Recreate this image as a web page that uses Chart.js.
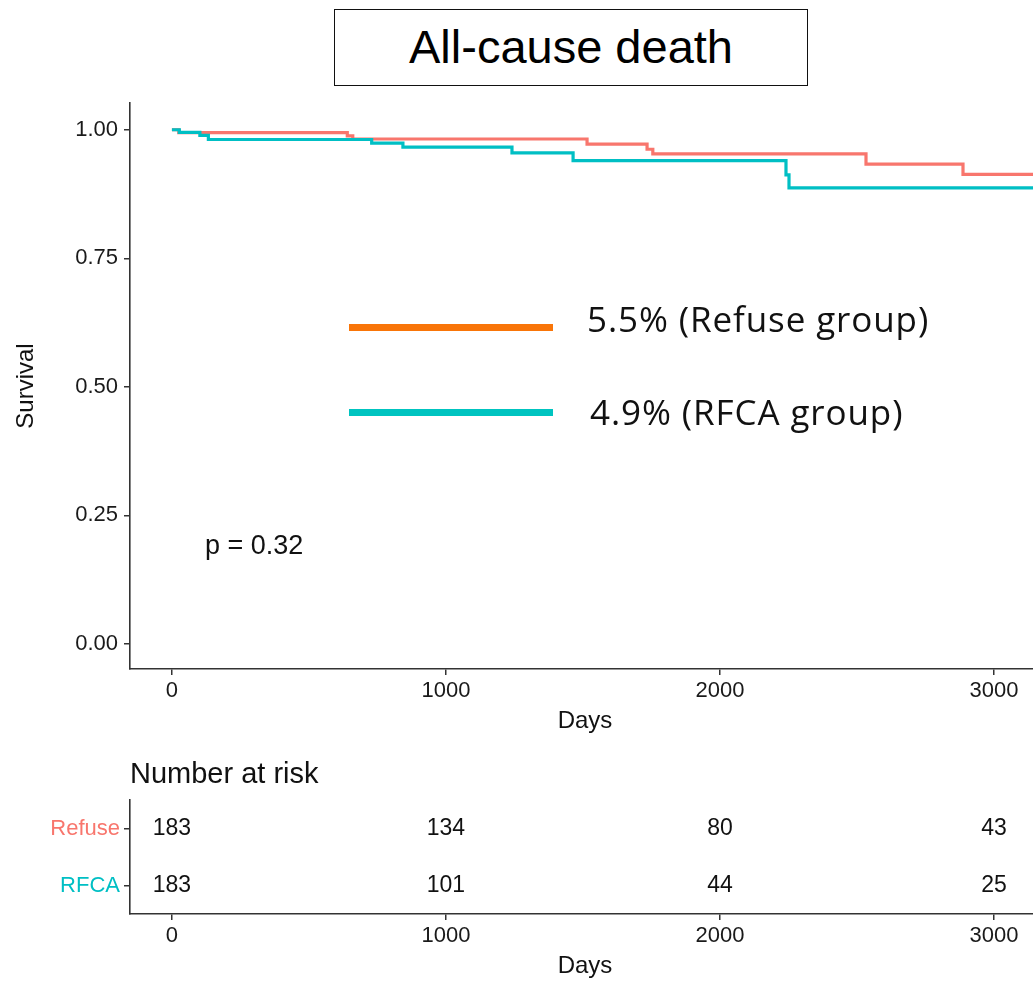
<!DOCTYPE html>
<html>
<head>
<meta charset="utf-8">
<title>All-cause death</title>
<script src="https://cdn.jsdelivr.net/npm/chart.js@4.4.1/dist/chart.umd.min.js"></script>
<style>
    html, body { margin: 0; padding: 0; background: #fff; }
    body {
        width: 1033px; height: 982px; overflow: hidden; position: relative;
        font-family: "Liberation Sans", Arial, sans-serif; color: #111;
    }
    canvas { position: absolute; left: 0; }
    #survChart { top: 0; }
    #riskChart { top: 750px; }
    .title-box {
        position: absolute; left: 334px; top: 9px; width: 474px; height: 77px;
        box-sizing: border-box; border: 1.5px solid #111;
        font-size: 47px; line-height: 74px; text-align: center; color: #000;
    }
    .leg-line { position: absolute; left: 349px; width: 204px; height: 7px; }
    .leg-text {
        position: absolute; font-family: "Open Sans", "Noto Sans", sans-serif;
        font-size: 35px; line-height: 44px; letter-spacing: 0.9px; color: #111; white-space: nowrap;
    }
    .pval { position: absolute; left: 205px; top: 529px; font-size: 27px; line-height: 32px; }
    .risk-title { position: absolute; left: 130px; top: 755px; font-size: 29px; line-height: 36px; }
</style>
</head>
<body>
<div class="title-box">All-cause death</div>
<canvas id="survChart" width="1040" height="750"></canvas>
<canvas id="riskChart" width="1040" height="232"></canvas>

<div class="leg-line" style="top:324px; background:#f97508;"></div>
<div class="leg-text" style="left:587px; top:297px;">5.5% (Refuse group)</div>
<div class="leg-line" style="top:409px; background:#00c4c0;"></div>
<div class="leg-text" style="left:590px; top:390px;">4.9% (RFCA group)</div>
<div class="pval">p = 0.32</div>
<div class="risk-title">Number at risk</div>

<script>
    // Kaplan-Meier steps (days, survival)
    const refuseDays = [0, 25, 640, 660, 1515, 1734, 1755, 2533, 2887, 3170];
    const refuseSurv = [1.0, 0.9945, 0.988, 0.982, 0.972, 0.962, 0.953, 0.933, 0.913, 0.913];
    const rfcaDays = [0, 27, 102, 133, 729, 843, 1241, 1464, 2241, 2252, 3170];
    const rfcaSurv = [1.0, 0.995, 0.989, 0.981, 0.974, 0.966, 0.955, 0.940, 0.912, 0.887, 0.887];

    // number at risk table
    const riskGroups = ['Refuse', 'RFCA'];
    const riskDays = [0, 1000, 2000, 3000];
    const refuseRisk = [183, 134, 80, 43];
    const rfcaRisk = [183, 101, 44, 25];

    // axis ticks
    const dayTicks = [0, 1000, 2000, 3000];
    const survTicks = [0, 0.25, 0.5, 0.75, 1.0];

    const RED = '#f8766d';
    const TEAL = '#00bfc4';
    const AXIS = '#333333';
    const TEXT = '#1a1a1a';
    const X_MIN = -153, X_MAX = 3168;

    Chart.defaults.font.family = '"Liberation Sans", Arial, sans-serif';

    function toPoints(days, vals) {
        return days.map(function (d, i) { return { x: d, y: vals[i] }; });
    }

    function axisGrid() {
        return { display: true, drawOnChartArea: false, drawTicks: true, tickLength: 6, color: AXIS, lineWidth: 1.5 };
    }

    function dayAxis(height, titlePad) {
        return {
            type: 'linear', min: X_MIN, max: X_MAX,
            afterFit: function (s) { s.height = height; },
            afterBuildTicks: function (s) { s.ticks = dayTicks.map(function (v) { return { value: v }; }); },
            grid: axisGrid(),
            border: { display: true, color: AXIS, width: 1.6 },
            ticks: {
                font: { size: 22 }, color: TEXT, padding: 3, maxRotation: 0, autoSkip: false,
                callback: function (v) { return String(v); }
            },
            title: { display: true, text: 'Days', font: { size: 24 }, color: '#111', padding: titlePad }
        };
    }

    // main survival plot
    new Chart(document.getElementById('survChart'), {
        type: 'line',
        data: {
            datasets: [{
                label: 'Refuse',
                data: toPoints(refuseDays, refuseSurv),
                borderColor: RED, borderWidth: 3.2, stepped: 'before',
                pointRadius: 0, fill: false, order: 2
            }, {
                label: 'RFCA',
                data: toPoints(rfcaDays, rfcaSurv),
                borderColor: TEAL, borderWidth: 3.2, stepped: 'before',
                pointRadius: 0, fill: false, order: 1
            }]
        },
        options: {
            responsive: false,
            animation: false,
            layout: { padding: { top: 103, left: 0, right: 0, bottom: 0 } },
            plugins: { legend: { display: false }, tooltip: { enabled: false } },
            scales: {
                x: dayAxis(81, { top: 14, bottom: 14 }),
                y: {
                    type: 'linear', min: -0.049, max: 1.052,
                    afterFit: function (s) { s.width = 130; },
                    afterBuildTicks: function (s) { s.ticks = survTicks.map(function (v) { return { value: v }; }); },
                    grid: axisGrid(),
                    border: { display: true, color: AXIS, width: 1.6 },
                    ticks: {
                        font: { size: 22 }, color: TEXT, padding: 6,
                        callback: function (v) { return Number(v).toFixed(2); }
                    },
                    title: { display: true, text: 'Survival', font: { size: 24 }, color: '#111', padding: { top: 12, bottom: 12 } }
                }
            }
        }
    });

    // writes the at-risk counts where the points sit
    const riskLabels = {
        id: 'riskLabels',
        afterDatasetsDraw: function (chart) {
            const ctx = chart.ctx;
            ctx.save();
            ctx.font = '23px "Liberation Sans", Arial, sans-serif';
            ctx.fillStyle = '#111';
            ctx.textAlign = 'center';
            ctx.textBaseline = 'middle';
            chart.data.datasets.forEach(function (ds, di) {
                chart.getDatasetMeta(di).data.forEach(function (pt, i) {
                    ctx.fillText(String(ds.risk[i]), pt.x, pt.y);
                });
            });
            ctx.restore();
        }
    };

    new Chart(document.getElementById('riskChart'), {
        type: 'scatter',
        data: {
            datasets: [{
                label: 'Refuse',
                data: riskDays.map(function (d) { return { x: d, y: 'Refuse' }; }),
                risk: refuseRisk, pointRadius: 0
            }, {
                label: 'RFCA',
                data: riskDays.map(function (d) { return { x: d, y: 'RFCA' }; }),
                risk: rfcaRisk, pointRadius: 0
            }]
        },
        options: {
            responsive: false,
            animation: false,
            layout: { padding: { top: 50, left: 0, right: 0, bottom: 0 } },
            plugins: { legend: { display: false }, tooltip: { enabled: false } },
            scales: {
                x: dayAxis(68, { top: 1, bottom: 1 }),
                y: {
                    type: 'category', labels: riskGroups, offset: true,
                    afterFit: function (s) { s.width = 130; },
                    grid: axisGrid(),
                    border: { display: true, color: AXIS, width: 1.6 },
                    ticks: {
                        font: { size: 22 }, padding: 4,
                        color: function (c) { return c.index === 0 ? RED : TEAL; }
                    }
                }
            }
        },
        plugins: [riskLabels]
    });
</script>
</body>
</html>
